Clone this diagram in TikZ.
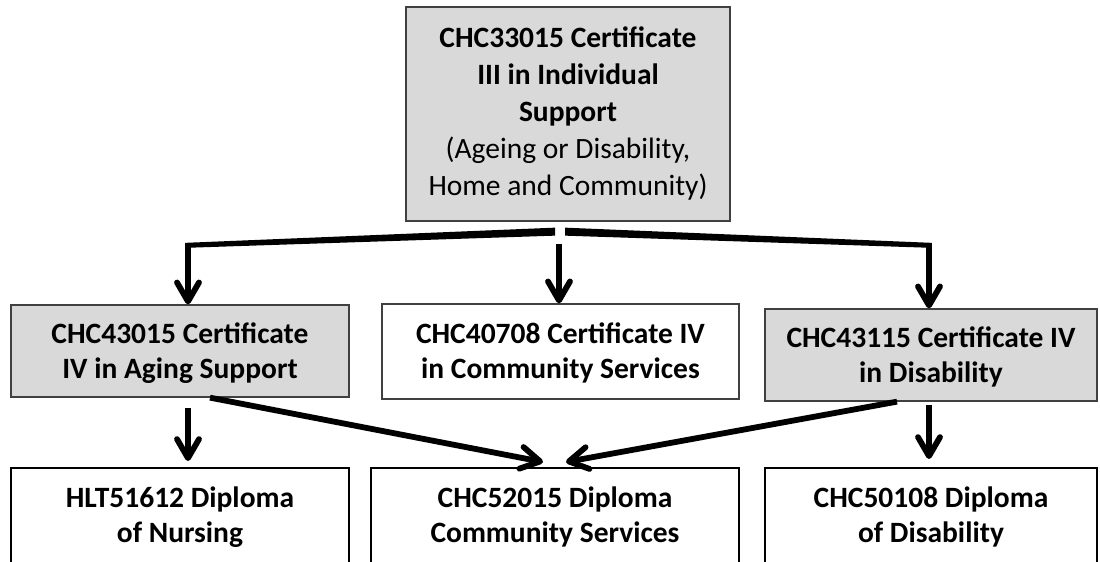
\documentclass[tikz,border=0pt]{standalone}
\usepackage{fontspec}
\setmainfont{Carlito}
\usetikzlibrary{arrows.meta,calc}
\definecolor{boxgray}{HTML}{D9D9D9}
\definecolor{edgegray}{HTML}{404040}
\newcommand\mytop[1]{\rule{0pt}{#1pt}}
\newcommand\mybot[1]{\rule[-#1pt]{0pt}{#1pt}}
\begin{document}
\begin{tikzpicture}[x=1pt,y=-1pt,
  box/.style={draw=edgegray,line width=1.3pt,inner sep=0pt,align=center,
    font=\fontsize{29.5}{35}\selectfont\bfseries},
  graybox/.style={box,fill=boxgray},
  lowbox/.style={box,draw=black,line width=2pt},
  conn/.style={line width=5.8pt,-{Straight Barb[length=19pt,width=22pt,round]}},
  taper/.style={fill=black}]
\useasboundingbox[fill=white] (0,0) rectangle (1100,562);
% boxes
\node[graybox,minimum width=324pt,minimum height=214pt,
  font=\fontsize{29.5}{37}\selectfont\bfseries] (top) at (568,114)
  {CHC33015 Certificate\\III in Individual\\Support\\\mdseries(Ageing or Disability,\\\mdseries Home and Community)};
\node[graybox,minimum width=338pt,minimum height=92pt] (left) at (180,351)
  {\mytop{26}CHC43015 Certificate\\IV in Aging Support\mybot{7}};
\node[box,minimum width=357pt,minimum height=95pt] (mid) at (560.5,351.5)
  {\mytop{26}CHC40708 Certificate IV\\in Community Services\mybot{7}};
\node[graybox,minimum width=332pt,minimum height=92pt] (right) at (931,355)
  {\mytop{26}CHC43115 Certificate IV\\in Disability\mybot{7}};
\node[lowbox,minimum width=338pt,minimum height=98pt] (botl) at (180,517)
  {\mytop{22}HLT51612 Diploma\\of Nursing\mybot{7}};
\node[lowbox,minimum width=368pt,minimum height=98pt] (botm) at (555,517)
  {\mytop{22}CHC52015 Diploma\\Community Services\mybot{7}};
\node[lowbox,minimum width=332pt,minimum height=98pt] (botr) at (931,517)
  {\mytop{22}CHC50108 Diploma\\of Disability\mybot{7}};
% connectors from the top box (tapered branches)
\coordinate (la) at ([shift={(-13,10)}]top.south);
\coordinate (lc) at ([shift={(8,-59)}]left.north);
\coordinate (ra) at ([shift={(-3,10)}]top.south);
\coordinate (rc) at ([shift={(-2,-63)}]right.north);
\fill[taper] ($(la)+(0,-4)$) -- ($(lc)+(-2.9,-2.5)$) -- ($(lc)+(-2.9,2.5)$) -- ($(la)+(0,4)$) -- cycle;
\draw[conn] ($(lc)+(0,-2.5)$) -- ([xshift=8pt]left.north);
\fill[taper] ($(ra)+(0,-4)$) -- ($(rc)+(2.9,-2.5)$) -- ($(rc)+(2.9,2.5)$) -- ($(ra)+(0,4)$) -- cycle;
\draw[conn] ($(rc)+(0,-2.5)$) -- ([xshift=-2pt]right.north);
\draw[conn] ($(top.south -| mid.north)+(-1.5,22)$) -- ([xshift=-1.5pt]mid.north);
% connectors to the diplomas
\draw[conn] ([shift={(8,10)}]left.south) -- ([shift={(8,-6)}]botl.north);
\draw[conn] ([shift={(-2,3)}]right.south) -- ([shift={(-2,-8)}]botr.north);
\draw[conn] ([xshift=30pt]left.south) -- ([shift={(-12,-5)}]botm.north);
\draw[conn] ([xshift=-34pt]right.south) -- ([shift={(11,-5)}]botm.north);
\end{tikzpicture}
\end{document}
